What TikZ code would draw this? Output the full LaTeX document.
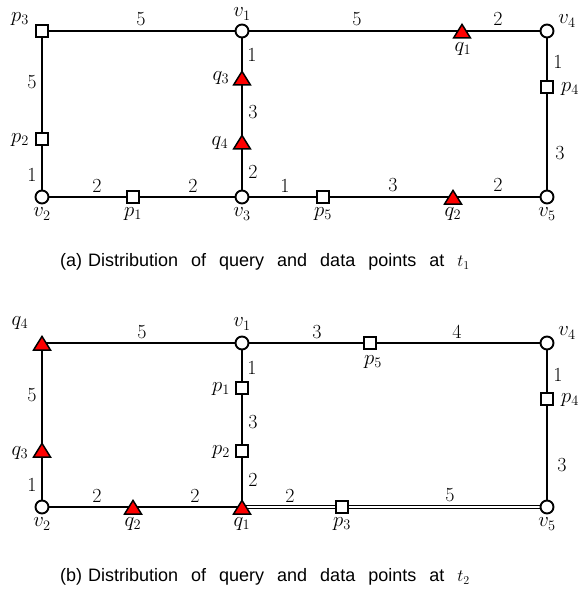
\documentclass[tikz,border=0pt]{standalone}
\usepackage{fontspec}
\newfontfamily\capfont{Liberation Sans}
\usetikzlibrary{backgrounds}
\newcommand{\gap}{\hspace{13pt}}
\begin{document}
\begin{tikzpicture}[x=1pt,y=-1pt,
  vtx/.style={circle,draw,fill=white,line width=1.9pt,minimum size=13pt,inner sep=0pt},
  dat/.style={rectangle,draw,fill=white,line width=2pt,minimum size=11.5pt,inner sep=0pt},
  qry/.style={rectangle,draw=none,minimum width=19.5pt,minimum height=16pt,inner sep=0pt,
    path picture={\draw[fill=red,line width=1.5pt,line join=miter]
      ([yshift=-1.4pt]path picture bounding box.north) --
      ([xshift=1.3pt,yshift=1pt]path picture bounding box.south west) --
      ([xshift=-1.3pt,yshift=1pt]path picture bounding box.south east) -- cycle;}},
  edg/.style={line width=1.7pt},
  dbl/.style={double,double distance=1.6pt,line width=1pt},
  lbl/.style={font=\fontsize{21}{25}\selectfont,inner sep=0pt},
  num/.style={font=\fontsize{20}{24}\selectfont,inner sep=0pt},
  capt/.style={font=\capfont\fontsize{18}{22}\selectfont,inner sep=0pt}]
\useasboundingbox (0,0) rectangle (581,596);
% ---------- (a) ----------
\node[dat] (ap3) at (42,31) {};
\node[vtx] (av1) at (242,31) {};
\node[qry] (aq1) at (462,31) {};
\node[vtx] (av4) at (547,31) {};
\node[qry] (aq3) at (242,78) {};
\node[qry] (aq4) at (242,142) {};
\node[dat] (ap2) at (42,139) {};
\node[dat] (ap4) at (547,87) {};
\node[vtx] (av2) at (42,197) {};
\node[dat] (ap1) at (133,197) {};
\node[vtx] (av3) at (242,197) {};
\node[dat] (ap5) at (323,197) {};
\node[qry] (aq2) at (453,197) {};
\node[vtx] (av5) at (547,197) {};
\begin{scope}[on background layer]
\draw[edg] (ap3.center) -- (av1.center) -- (aq1.center) -- (av4.center) -- (ap4.center) -- (av5.center) -- (aq2.center) -- (ap5.center) -- (av3.center) -- (ap1.center) -- (av2.center) -- (ap2.center) -- (ap3.center);
\draw[edg] (av1.center) -- (aq3.center) -- (aq4.center) -- (av3.center);
\end{scope}
% labels (a)
\node[lbl] (lap3) at (20,19) {$p_3$};
\node[lbl] (lav1) at (242,14) {$v_1$};
\node[lbl] (laq1) at (463,49) {$q_1$};
\node[lbl] (lav4) at (567,21) {$v_4$};
\node[lbl] (laq3) at (221,78) {$q_3$};
\node[lbl] (laq4) at (220,143) {$q_4$};
\node[lbl] (lap2) at (20,140) {$p_2$};
\node[lbl] (lap4) at (570,89) {$p_4$};
\node[lbl] (lav2) at (42,214) {$v_2$};
\node[lbl] (lap1) at (133,214) {$p_1$};
\node[lbl] (lav3) at (242,214) {$v_3$};
\node[lbl] (lap5) at (323,214) {$p_5$};
\node[lbl] (laq2) at (453,214) {$q_2$};
\node[lbl] (lav5) at (547,214) {$v_5$};
% edge weights (a)
\node[num] (wa1) at (141,19) {5};
\node[num] (wa2) at (357,19) {5};
\node[num] (wa3) at (498,19) {2};
\node[num] (wa4) at (32,82) {5};
\node[num] (wa5) at (32,175) {1};
\node[num] (wa6) at (252,55) {1};
\node[num] (wa7) at (253,112) {3};
\node[num] (wa8) at (253,172) {2};
\node[num] (wa9) at (97,186) {2};
\node[num] (wa10) at (193,186) {2};
\node[num] (wa11) at (285,186) {1};
\node[num] (wa12) at (393,185) {3};
\node[num] (wa13) at (498,185) {2};
\node[num] (wa14) at (558,62) {1};
\node[num] (wa15) at (560,153) {3};
\node[capt] (capa) at (265,262) {(a)\hspace{6pt}Distribution\gap of\gap query\gap and\gap data\gap points\gap at\gap $t_1$};
% ---------- (b) ----------
\node[qry] (bq4) at (42,343) {};
\node[vtx] (bv1) at (242,343) {};
\node[dat] (bp5) at (370,343) {};
\node[vtx] (bv4) at (547,343) {};
\node[dat] (bp1) at (242,388) {};
\node[dat] (bp2) at (242,451) {};
\node[qry] (bq3) at (42,450) {};
\node[dat] (bp4) at (547,399) {};
\node[vtx] (bv2) at (42,507) {};
\node[qry] (bq2) at (133,507) {};
\node[qry] (bq1) at (242,507) {};
\node[dat] (bp3) at (342,507) {};
\node[vtx] (bv5) at (547,507) {};
\begin{scope}[on background layer]
\draw[edg] (bv5.center) -- (bp4.center) -- (bv4.center) -- (bp5.center) -- (bv1.center) -- (bq4.center) -- (bq3.center) -- (bv2.center) -- (bq2.center) -- (bq1.center);
\draw[edg] (bv1.center) -- (bp1.center) -- (bp2.center) -- (bq1.center);
\draw[dbl] (bq1.center) -- (bp3.center) -- (bv5.center);
\end{scope}
% labels (b)
\node[lbl] (lbq4) at (20,323) {$q_4$};
\node[lbl] (lbv1) at (242,324) {$v_1$};
\node[lbl] (lbp5) at (373,362) {$p_5$};
\node[lbl] (lbv4) at (567,333) {$v_4$};
\node[lbl] (lbp1) at (221,389) {$p_1$};
\node[lbl] (lbp2) at (221,452) {$p_2$};
\node[lbl] (lbq3) at (20,453) {$q_3$};
\node[lbl] (lbp4) at (570,400) {$p_4$};
\node[lbl] (lbv2) at (42,524) {$v_2$};
\node[lbl] (lbq2) at (133,524) {$q_2$};
\node[lbl] (lbq1) at (242,524) {$q_1$};
\node[lbl] (lbp3) at (342,524) {$p_3$};
\node[lbl] (lbv5) at (547,524) {$v_5$};
% edge weights (b)
\node[num] (wb1) at (142,332) {5};
\node[num] (wb2) at (317,332) {3};
\node[num] (wb3) at (457,332) {4};
\node[num] (wb4) at (32,395) {5};
\node[num] (wb5) at (32,485) {1};
\node[num] (wb6) at (252,368) {1};
\node[num] (wb7) at (253,422) {3};
\node[num] (wb8) at (253,480) {2};
\node[num] (wb9) at (97,496) {2};
\node[num] (wb10) at (195,496) {2};
\node[num] (wb11) at (290,496) {2};
\node[num] (wb12) at (450,495) {5};
\node[num] (wb13) at (558,375) {1};
\node[num] (wb14) at (562,465) {3};
\node[capt] (capb) at (265,577) {(b)\hspace{6pt}Distribution\gap of\gap query\gap and\gap data\gap points\gap at\gap $t_2$};
\end{tikzpicture}
\end{document}
